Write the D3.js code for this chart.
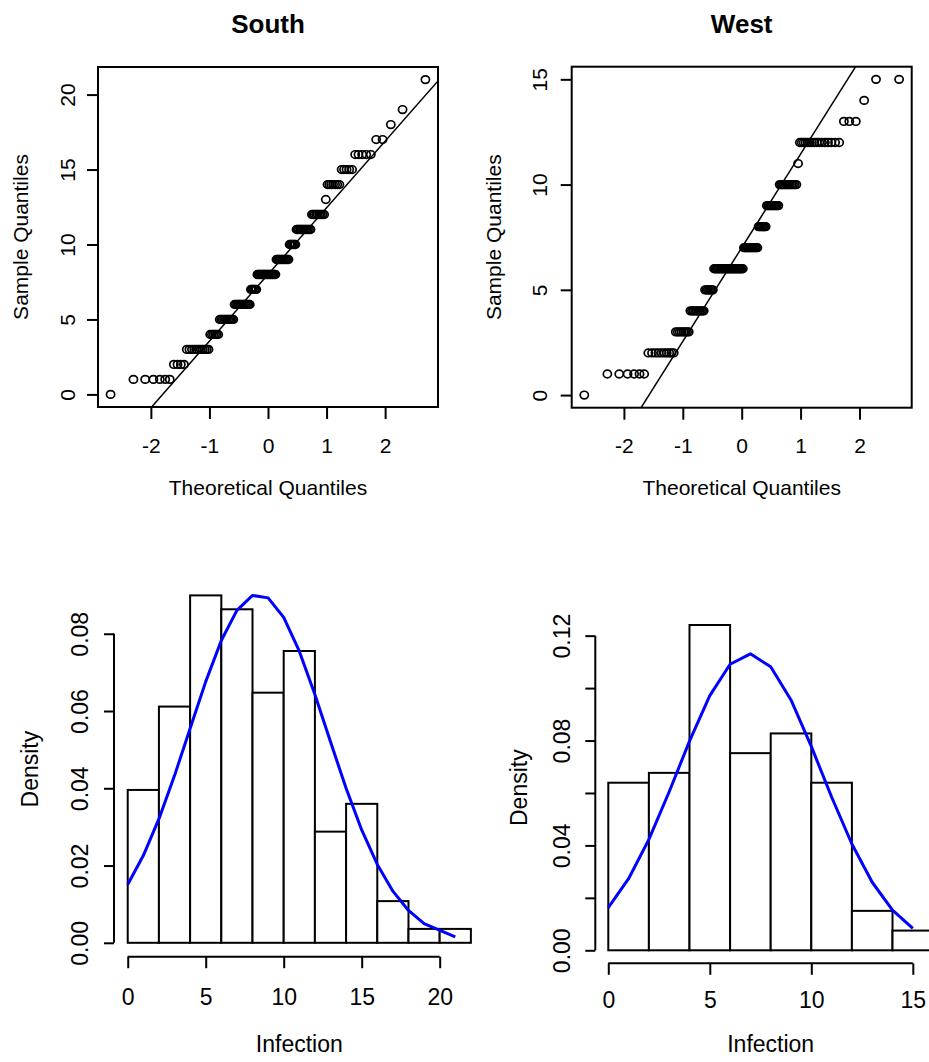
<!DOCTYPE html>
<html>
<head>
<meta charset="utf-8">
<script src="https://cdn.jsdelivr.net/npm/d3@7"></script>
<style>
  html, body { margin: 0; padding: 0; background: #fff; }
  svg { display: block; font-family: "Liberation Sans", Arial, sans-serif; }
</style>
</head>
<body>
<svg id="chart" width="929" height="1062"></svg>
<script>
// Infection observations per region: each distinct value and how often it occurs
const southValues = [0, 1, 2, 3, 4, 5, 6, 7, 8, 9, 10, 11, 12, 13, 14, 15, 16, 17, 18, 19, 20, 21];
const southCounts = [1, 6, 4, 11, 6, 11, 14, 6, 18, 12, 6, 12, 9, 1, 7, 5, 5, 2, 1, 1, 0, 1];
const westValues  = [0, 1, 2, 3, 4, 5, 6, 7, 8, 9, 10, 11, 12, 13, 14, 15];
const westCounts  = [1, 6, 10, 8, 10, 7, 26, 13, 7, 10, 12, 1, 16, 3, 1, 2];

// Histogram break points
const southBreaks = [0, 2, 4, 6, 8, 10, 12, 14, 16, 18, 20, 22];
const westBreaks  = [0, 2, 4, 6, 8, 10, 12, 14, 16];

// Tick values
const qqXTicks          = [-2, -1, 0, 1, 2];
const southQQYTicks     = [0, 5, 10, 15, 20];
const westQQYTicks      = [0, 5, 10, 15];
const southHistXTicks   = [0, 5, 10, 15, 20];
const westHistXTicks    = [0, 5, 10, 15];
const southDensityTicks = [0, 0.02, 0.04, 0.06, 0.08];
const westDensityTicks  = [0, 0.02, 0.04, 0.06, 0.08, 0.10, 0.12];
const westDensityLabels = [0, 0.04, 0.08, 0.12];

const svg = d3.select("#chart");

// ---------- helpers ----------
function expand(values, counts) {
  const out = [];
  values.forEach((v, i) => { for (let k = 0; k < counts[i]; k++) out.push(v); });
  return out;
}

// Inverse standard normal CDF (Acklam's rational approximation)
function qnorm(p) {
  const a = [-3.969683028665376e+01, 2.209460984245205e+02, -2.759285104469687e+02,
             1.383577518672690e+02, -3.066479806614716e+01, 2.506628277459239e+00];
  const b = [-5.447609879822406e+01, 1.615858368580409e+02, -1.556989798598866e+02,
             6.680131188771972e+01, -1.328068155288572e+01];
  const c = [-7.784894002430293e-03, -3.223964580411365e-01, -2.400758277161838e+00,
             -2.549732539343734e+00, 4.374664141464968e+00, 2.938163982698783e+00];
  const d = [7.784695709041462e-03, 3.224671290700398e-01, 2.445134137142996e+00,
             3.754408661907416e+00];
  const plow = 0.02425, phigh = 1 - plow;
  let q, r;
  if (p < plow) {
    q = Math.sqrt(-2 * Math.log(p));
    return (((((c[0]*q + c[1])*q + c[2])*q + c[3])*q + c[4])*q + c[5]) /
           ((((d[0]*q + d[1])*q + d[2])*q + d[3])*q + 1);
  } else if (p <= phigh) {
    q = p - 0.5; r = q * q;
    return (((((a[0]*r + a[1])*r + a[2])*r + a[3])*r + a[4])*r + a[5]) * q /
           (((((b[0]*r + b[1])*r + b[2])*r + b[3])*r + b[4])*r + 1);
  } else {
    q = Math.sqrt(-2 * Math.log(1 - p));
    return -(((((c[0]*q + c[1])*q + c[2])*q + c[3])*q + c[4])*q + c[5]) /
            ((((d[0]*q + d[1])*q + d[2])*q + d[3])*q + 1);
  }
}

function ppoints(n) {
  const a = n <= 10 ? 3 / 8 : 0.5;
  return d3.range(1, n + 1).map(i => (i - a) / (n + 1 - 2 * a));
}

function dnorm(x, m, s) {
  return Math.exp(-0.5 * ((x - m) / s) ** 2) / (s * Math.sqrt(2 * Math.PI));
}

function padRange([lo, hi]) {
  const d = (hi - lo) * 0.04;
  return [lo - d, hi + d];
}

function styleAxisText(g, size) {
  g.selectAll("text")
    .attr("fill", "#000")
    .style("font-size", size + "px")
    .style("font-family", '"Liberation Sans", Arial, sans-serif');
  g.selectAll(".tick line").attr("stroke", "#000").attr("stroke-width", 2);
}

// ---------- normal Q-Q panel ----------
function qqPanel(cfg) {
  const sample = expand(cfg.values, cfg.counts).sort((a, b) => a - b);
  const n = sample.length;
  const theo = ppoints(n).map(qnorm);

  const x = d3.scaleLinear().domain(padRange(d3.extent(theo))).range([cfg.box.l, cfg.box.r]);
  const y = d3.scaleLinear().domain(padRange(d3.extent(sample))).range([cfg.box.b, cfg.box.t]);

  const g = svg.append("g");
  const clipId = "clip-" + cfg.id;
  g.append("clipPath").attr("id", clipId)
    .append("rect")
    .attr("x", cfg.box.l).attr("y", cfg.box.t)
    .attr("width", cfg.box.r - cfg.box.l).attr("height", cfg.box.b - cfg.box.t);

  // points
  g.append("g").selectAll("ellipse").data(sample).join("ellipse")
    .attr("cx", (d, i) => x(theo[i]))
    .attr("cy", d => y(d))
    .attr("rx", 4.1)
    .attr("ry", 3.8)
    .attr("fill", "none")
    .attr("stroke", "#000")
    .attr("stroke-width", 1.7);

  // reference line through the quartiles
  const y1 = d3.quantile(sample, 0.25), y2 = d3.quantile(sample, 0.75);
  const x1 = qnorm(0.25), x2 = qnorm(0.75);
  const slope = (y2 - y1) / (x2 - x1);
  const intercept = y1 - slope * x1;
  const [dx0, dx1] = x.domain();
  g.append("line")
    .attr("clip-path", `url(#${clipId})`)
    .attr("x1", x(dx0)).attr("y1", y(intercept + slope * dx0))
    .attr("x2", x(dx1)).attr("y2", y(intercept + slope * dx1))
    .attr("stroke", "#000").attr("stroke-width", 1.5);

  // frame
  g.append("rect")
    .attr("x", cfg.box.l).attr("y", cfg.box.t)
    .attr("width", cfg.box.r - cfg.box.l).attr("height", cfg.box.b - cfg.box.t)
    .attr("fill", "none").attr("stroke", "#000").attr("stroke-width", 2);

  // x axis
  const gx = g.append("g").attr("transform", `translate(0,${cfg.box.b})`)
    .call(d3.axisBottom(x).tickValues(qqXTicks).tickSize(12).tickSizeOuter(0).tickFormat(d => String(d)));
  gx.select(".domain").remove();
  styleAxisText(gx, cfg.fontSize);
  gx.selectAll("text").attr("y", cfg.xTickBase - cfg.box.b).attr("dy", null);

  // y axis
  const gy = g.append("g").attr("transform", `translate(${cfg.box.l},0)`)
    .call(d3.axisLeft(y).tickValues(cfg.yTicks).tickSize(11).tickSizeOuter(0).tickFormat(d => String(d)));
  gy.select(".domain").remove();
  styleAxisText(gy, cfg.fontSize);
  gy.selectAll("text")
    .attr("x", 0).attr("dy", null)
    .attr("text-anchor", "middle")
    .attr("transform", `translate(${cfg.yTickBase - cfg.box.l},0) rotate(-90)`);

  // titles
  const cx = (cfg.box.l + cfg.box.r) / 2, cy = (cfg.box.t + cfg.box.b) / 2;
  g.append("text").attr("x", cx).attr("y", cfg.titleBase)
    .attr("text-anchor", "middle").style("font-size", "26px").style("font-weight", "bold")
    .text(cfg.title);
  g.append("text").attr("x", cx).attr("y", cfg.xTitleBase)
    .attr("text-anchor", "middle").style("font-size", cfg.fontSize + "px")
    .text("Theoretical Quantiles");
  g.append("text")
    .attr("transform", `translate(${cfg.yTitleBase},${cy}) rotate(-90)`)
    .attr("text-anchor", "middle").style("font-size", cfg.fontSize + "px")
    .text("Sample Quantiles");
}

// ---------- density histogram panel ----------
function histPanel(cfg) {
  const sample = expand(cfg.values, cfg.counts);
  const n = sample.length;
  const br = cfg.breaks;
  const bins = br.slice(0, -1).map((b0, k) => {
    const b1 = br[k + 1];
    const count = sample.filter(v => (v > b0 || (k === 0 && v === b0)) && v <= b1).length;
    return { b0, b1, density: count / (n * (b1 - b0)) };
  });

  const m = d3.mean(sample), s = d3.deviation(sample);
  const curveX = cfg.values.filter((v, i) => cfg.counts[i] > 0);
  const curve = curveX.map(v => ({ x: v, y: dnorm(v, m, s) }));

  const ymax = Math.max(d3.max(bins, d => d.density), d3.max(curve, d => d.y));
  const x = d3.scaleLinear().domain(padRange([br[0], br[br.length - 1]])).range([cfg.box.l, cfg.box.r]);
  const y = d3.scaleLinear().domain(padRange([0, ymax])).range([cfg.box.b, cfg.box.t]);

  const g = svg.append("g");

  g.append("g").selectAll("rect").data(bins).join("rect")
    .attr("x", d => x(d.b0))
    .attr("width", d => x(d.b1) - x(d.b0))
    .attr("y", d => y(d.density))
    .attr("height", d => y(0) - y(d.density))
    .attr("fill", "#fff").attr("stroke", "#000").attr("stroke-width", 2);

  g.append("path").datum(curve)
    .attr("d", d3.line().x(d => x(d.x)).y(d => y(d.y)))
    .attr("fill", "none").attr("stroke", "#0000ff").attr("stroke-width", 3)
    .attr("stroke-linejoin", "round");

  // x axis (line spans first to last tick)
  const gx = g.append("g").attr("transform", `translate(0,${cfg.box.b})`)
    .call(d3.axisBottom(x).tickValues(cfg.xTicks).tickSize(11.5).tickSizeOuter(0).tickFormat(d => String(d)));
  gx.select(".domain").remove();
  gx.append("line")
    .attr("x1", x(cfg.xTicks[0])).attr("x2", x(cfg.xTicks[cfg.xTicks.length - 1]))
    .attr("stroke", "#000").attr("stroke-width", 2);
  styleAxisText(gx, cfg.fontSize);
  gx.selectAll("text").attr("y", cfg.xTickBase - cfg.box.b).attr("dy", null);

  // y axis
  const fmt = d3.format(".2f");
  const gy = g.append("g").attr("transform", `translate(${cfg.box.l},0)`)
    .call(d3.axisLeft(y).tickValues(cfg.yTicks).tickSize(10).tickSizeOuter(0)
      .tickFormat(d => cfg.yLabels.some(v => Math.abs(v - d) < 1e-9) ? fmt(d) : ""));
  gy.select(".domain").remove();
  gy.append("line")
    .attr("y1", y(cfg.yTicks[0])).attr("y2", y(cfg.yTicks[cfg.yTicks.length - 1]))
    .attr("stroke", "#000").attr("stroke-width", 2);
  styleAxisText(gy, cfg.fontSize);
  gy.selectAll("text")
    .attr("x", 0).attr("dy", null)
    .attr("text-anchor", "middle")
    .attr("transform", `translate(${cfg.yTickBase - cfg.box.l},0) rotate(-90)`);

  const cx = (cfg.box.l + cfg.box.r) / 2, cy = (cfg.box.t + cfg.box.b) / 2;
  g.append("text").attr("x", cx).attr("y", cfg.xTitleBase)
    .attr("text-anchor", "middle").style("font-size", cfg.fontSize + "px")
    .text("Infection");
  g.append("text")
    .attr("transform", `translate(${cfg.yTitleBase},${cy}) rotate(-90)`)
    .attr("text-anchor", "middle").style("font-size", cfg.fontSize + "px")
    .text("Density");
}

qqPanel({
  id: "south", title: "South", values: southValues, counts: southCounts,
  box: { l: 98, r: 438, t: 67, b: 407 }, yTicks: southQQYTicks, fontSize: 21,
  titleBase: 33, xTickBase: 453, xTitleBase: 495, yTickBase: 75, yTitleBase: 28
});
qqPanel({
  id: "west", title: "West", values: westValues, counts: westCounts,
  box: { l: 571.7, r: 911.7, t: 66.7, b: 407.7 }, yTicks: westQQYTicks, fontSize: 21,
  titleBase: 33, xTickBase: 453.3, xTitleBase: 495, yTickBase: 547, yTitleBase: 501
});
histPanel({
  values: southValues, counts: southCounts, breaks: southBreaks,
  box: { l: 114, r: 484.6, t: 581.5, b: 956.7 },
  xTicks: southHistXTicks, yTicks: southDensityTicks, yLabels: southDensityTicks, fontSize: 23,
  xTickBase: 1005, xTitleBase: 1051.7, yTickBase: 88, yTitleBase: 38
});
histPanel({
  values: westValues, counts: westCounts, breaks: westBreaks,
  box: { l: 595.3, r: 946.1, t: 612, b: 963.3 },
  xTicks: westHistXTicks, yTicks: westDensityTicks, yLabels: westDensityLabels, fontSize: 23,
  xTickBase: 1008, xTitleBase: 1051.7, yTickBase: 570, yTitleBase: 527
});
</script>
</body>
</html>
